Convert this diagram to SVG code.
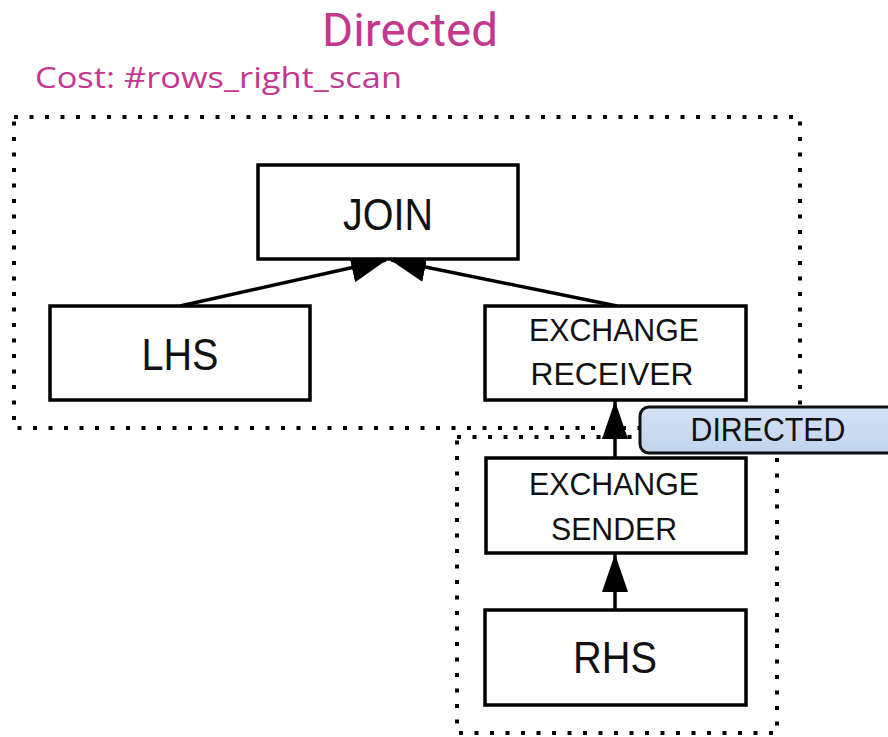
<svg xmlns="http://www.w3.org/2000/svg" width="888" height="737" viewBox="0 0 888 737">
  <style>
    .box { fill: #ffffff; stroke: #000000; stroke-width: 3.5; }
    .dot { fill: none; stroke: #000000; stroke-width: 4; stroke-dasharray: 4 11.5; }
    .edge { stroke: #000000; stroke-width: 3.5; fill: none; }
    .lbl { font-family: "Liberation Sans", Arial, sans-serif; fill: #111111; text-anchor: middle; }
    .big { font-size: 45px; }
    .med { font-size: 32px; }
    .pink { fill: #c4378f; }
  </style>
  <defs>
    <marker id="ah" markerUnits="userSpaceOnUse" markerWidth="36" markerHeight="30" refX="35" refY="15" orient="auto">
      <path d="M0,0 L36,15 L0,30 z" fill="#000000"/>
    </marker>
    <marker id="ahv" markerUnits="userSpaceOnUse" markerWidth="38" markerHeight="26" refX="38" refY="13" orient="auto">
      <path d="M0,0 L38,13 L0,26 z" fill="#000000"/>
    </marker>
    <linearGradient id="blue" x1="0" y1="0" x2="0" y2="1">
      <stop offset="0" stop-color="#d3e1f3"/>
      <stop offset="1" stop-color="#c2d5ee"/>
    </linearGradient>
  </defs>
  <rect width="888" height="737" fill="#ffffff"/>

  <g id="title">
    <text x="410" y="46" font-family="Roboto, 'Liberation Sans', sans-serif" font-size="47" class="pink" text-anchor="middle" textLength="176" lengthAdjust="spacingAndGlyphs">Directed</text>
    <text x="35" y="88" font-family="'Open Sans', 'Liberation Sans', sans-serif" font-size="30" class="pink" textLength="367" lengthAdjust="spacingAndGlyphs">Cost: #rows_right_scan</text>
  </g>

  <g id="regions">
    <rect class="dot" x="14" y="117" width="786" height="311"/>
    <rect class="dot" x="457" y="437" width="320" height="296"/>
  </g>

  <g id="connectors">
    <line class="edge" x1="180" y1="306" x2="386" y2="260" marker-end="url(#ah)"/>
    <line class="edge" x1="617" y1="306" x2="391" y2="260" marker-end="url(#ah)"/>
    <line class="edge" x1="615" y1="458" x2="615" y2="401" marker-end="url(#ahv)"/>
    <line class="edge" x1="615" y1="610" x2="615" y2="554" marker-end="url(#ahv)"/>
  </g>

  <g id="join">
    <rect class="box" x="258" y="165" width="260" height="94"/>
    <text class="lbl big" x="388" y="230" textLength="90" lengthAdjust="spacingAndGlyphs">JOIN</text>
  </g>

  <g id="lhs">
    <rect class="box" x="50" y="306" width="260" height="94"/>
    <text class="lbl big" x="180" y="370" textLength="77" lengthAdjust="spacingAndGlyphs">LHS</text>
  </g>

  <g id="exchange-receiver">
    <rect class="box" x="485" y="306" width="261" height="94"/>
    <text class="lbl med" x="614" y="341" textLength="170" lengthAdjust="spacingAndGlyphs">EXCHANGE</text>
    <text class="lbl med" x="612" y="385" textLength="163" lengthAdjust="spacingAndGlyphs">RECEIVER</text>
  </g>

  <g id="exchange-sender">
    <rect class="box" x="486" y="458" width="260" height="95"/>
    <text class="lbl med" x="614" y="495" textLength="170" lengthAdjust="spacingAndGlyphs">EXCHANGE</text>
    <text class="lbl med" x="614" y="540" textLength="126" lengthAdjust="spacingAndGlyphs">SENDER</text>
  </g>

  <g id="rhs">
    <rect class="box" x="485" y="610" width="261" height="95"/>
    <text class="lbl big" x="615" y="673" textLength="84" lengthAdjust="spacingAndGlyphs">RHS</text>
  </g>

  <g id="directed-label">
    <rect x="640" y="407" width="262" height="46" rx="9" fill="url(#blue)" stroke="#111111" stroke-width="3"/>
    <text class="lbl" x="768" y="441" font-size="33" textLength="155" lengthAdjust="spacingAndGlyphs">DIRECTED</text>
  </g>
</svg>
